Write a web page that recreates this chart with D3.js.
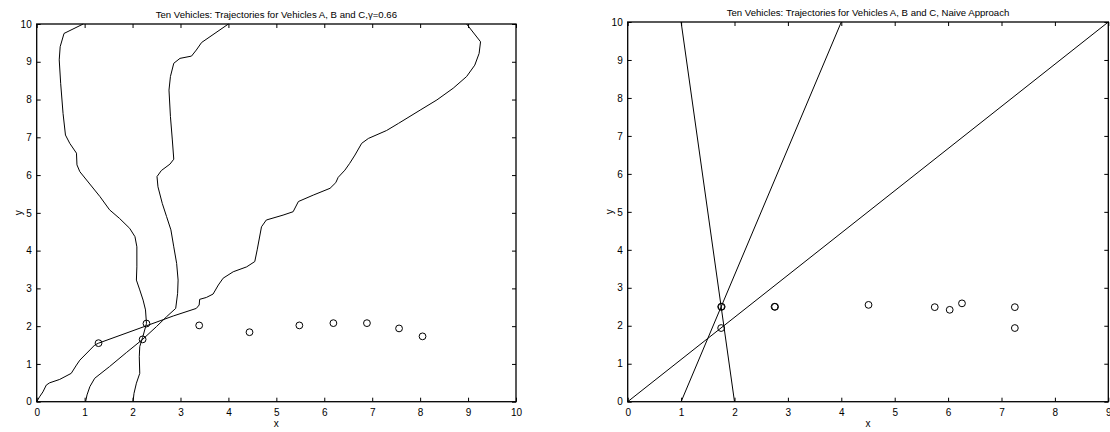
<!DOCTYPE html>
<html>
<head>
<meta charset="utf-8">
<script src="https://cdn.jsdelivr.net/npm/d3@7"></script>
<style>
body{margin:0;background:#fff;}
svg{display:block;font-family:"Liberation Sans",Arial,Helvetica,sans-serif;}
</style>
</head>
<body>
<svg id="c" width="1110" height="432"></svg>
<script>
// ---------- Data: left panel (gamma = 0.66) ----------
const leftTitle = "Ten Vehicles: Trajectories for Vehicles A, B and C,\u03B3=0.66";
const leftXTicks = [0,1,2,3,4,5,6,7,8,9,10];
const leftYTicks = [0,1,2,3,4,5,6,7,8,9,10];
const trajA = [[0,0],[0.06,0.13],[0.13,0.26],[0.20,0.44],[0.27,0.50],[0.48,0.59],[0.72,0.75],[0.83,0.97],[0.90,1.10],[1.11,1.37],[1.21,1.50],[1.29,1.55],[2.29,2.01],[2.85,2.27],[3.33,2.47],[3.39,2.56],[3.40,2.71],[3.54,2.76],[3.68,2.85],[3.79,3.09],[3.89,3.27],[4.10,3.44],[4.38,3.57],[4.55,3.71],[4.60,4.02],[4.69,4.63],[4.79,4.81],[5.14,4.94],[5.35,5.03],[5.46,5.30],[5.77,5.47],[6.12,5.65],[6.24,5.80],[6.29,5.94],[6.43,6.13],[6.53,6.31],[6.64,6.53],[6.78,6.84],[6.92,6.97],[7.30,7.18],[7.55,7.37],[8.00,7.72],[8.35,7.99],[8.69,8.30],[8.97,8.61],[9.14,8.91],[9.23,9.22],[9.26,9.53],[8.97,10]];
const trajB = [[1.02,0],[1.05,0.18],[1.11,0.40],[1.21,0.62],[1.32,0.73],[1.52,0.93],[1.87,1.30],[2.21,1.65],[2.50,1.99],[2.71,2.25],[2.90,2.47],[2.94,2.87],[2.95,3.22],[2.92,3.66],[2.86,4.10],[2.80,4.55],[2.71,4.90],[2.62,5.25],[2.53,5.69],[2.51,5.96],[2.60,6.12],[2.78,6.29],[2.86,6.42],[2.83,6.93],[2.79,7.55],[2.76,8.25],[2.79,8.61],[2.86,8.96],[2.99,9.09],[3.23,9.15],[3.33,9.31],[3.44,9.51],[4.00,10]];
const trajC = [[2.01,0],[2.03,0.22],[2.08,0.49],[2.15,0.75],[2.14,1.19],[2.15,1.46],[2.21,1.70],[2.29,2.07],[2.27,2.43],[2.22,2.69],[2.15,2.96],[2.08,3.22],[2.09,3.57],[2.09,4.10],[2.05,4.37],[1.94,4.59],[1.73,4.85],[1.52,5.08],[1.32,5.43],[0.90,6.09],[0.84,6.27],[0.83,6.58],[0.69,6.84],[0.60,7.06],[0.55,7.63],[0.50,8.43],[0.47,9.05],[0.49,9.40],[0.57,9.75],[0.97,10]];
const leftPtsX = [1.29,2.29,2.21,3.39,4.44,5.48,6.19,6.89,7.56,8.05];
const leftPtsY = [1.55,2.07,1.65,2.02,1.84,2.02,2.08,2.08,1.94,1.73];

// ---------- Data: right panel (naive approach) ----------
const rightTitle = "Ten Vehicles: Trajectories for Vehicles A, B and C, Naive Approach";
const rightXTicks = [0,1,2,3,4,5,6,7,8,9];
const rightYTicks = [0,1,2,3,4,5,6,7,8,9,10];
const naiveA = [[0,0],[9,10]];
const naiveB = [[1,0],[4,10]];
const naiveC = [[2,0],[1,10]];
const rightPtsX = [1.75,1.76,1.75,2.75,2.76,4.51,5.75,6.03,6.26,7.25,7.25];
const rightPtsY = [2.50,2.50,1.94,2.50,2.50,2.55,2.49,2.42,2.59,2.49,1.94];

const svg = d3.select("#c");

function panel(cfg){
  const g = svg.append("g");
  const x = d3.scaleLinear().domain(cfg.xDomain).range([cfg.left, cfg.right]);
  const y = d3.scaleLinear().domain([0,10]).range([cfg.bottom, cfg.top]);
  const tl = 4;

  // data lines
  const line = d3.line().x(d=>x(d[0])).y(d=>y(d[1]));
  cfg.lines.forEach(L=>{
    g.append("path").attr("d", line(L)).attr("fill","none")
      .attr("stroke","#000").attr("stroke-width",1);
  });
  // points
  g.selectAll("circle.p").data(cfg.px.map((v,i)=>[v,cfg.py[i]])).enter()
    .append("circle").attr("class","p")
    .attr("cx",d=>x(d[0])).attr("cy",d=>y(d[1])).attr("r",3.4)
    .attr("fill","none").attr("stroke","#000").attr("stroke-width",1);

  // axes (inward ticks on all sides)
  const axB = d3.axisBottom(x).tickValues(cfg.xTicks).tickSizeInner(-tl).tickSizeOuter(0).tickPadding(7).tickFormat(d3.format("d"));
  const axT = d3.axisTop(x).tickValues(cfg.xTicks).tickSizeInner(-tl).tickSizeOuter(0).tickFormat("");
  const axL = d3.axisLeft(y).tickValues(cfg.yTicks).tickSizeInner(-tl).tickSizeOuter(0).tickPadding(5).tickFormat(d3.format("d"));
  const axR = d3.axisRight(y).tickValues(cfg.yTicks).tickSizeInner(-tl).tickSizeOuter(0).tickFormat("");
  const gb = g.append("g").attr("transform",`translate(0,${cfg.bottom})`).call(axB);
  const gt = g.append("g").attr("transform",`translate(0,${cfg.top})`).call(axT);
  const gl = g.append("g").attr("transform",`translate(${cfg.left},0)`).call(axL);
  const gr = g.append("g").attr("transform",`translate(${cfg.right},0)`).call(axR);
  [gb,gt,gl,gr].forEach(a=>{
    a.select(".domain").remove();
    a.selectAll("line").attr("stroke","#000");
    a.selectAll("text").attr("fill","#000").style("font-size","10px")
      .style("font-family","'Liberation Sans',Arial,sans-serif");
  });
  gb.selectAll("text").attr("dy","0.71em");
  // frame
  g.append("rect").attr("x",cfg.left).attr("y",cfg.top)
    .attr("width",cfg.right-cfg.left).attr("height",cfg.bottom-cfg.top)
    .attr("fill","none").attr("stroke","#000").attr("stroke-width",1.3);

  // title & labels
  g.append("text").attr("x",(cfg.left+cfg.right)/2).attr("y",cfg.top-6)
    .attr("text-anchor","middle").style("font-size","9.6px").text(cfg.title);
  g.append("text").attr("x",(cfg.left+cfg.right)/2).attr("y",cfg.bottom+25)
    .attr("text-anchor","middle").style("font-size","10px").text("x");
  g.append("text").attr("transform",`translate(${cfg.left-15},${(cfg.top+cfg.bottom)/2}) rotate(-90)`)
    .attr("text-anchor","middle").style("font-size","10px").text("y");
}

panel({left:36.7,right:516,top:24,bottom:401.7,xDomain:[0,10],
  xTicks:leftXTicks,yTicks:leftYTicks,lines:[trajA,trajB,trajC],
  px:leftPtsX,py:leftPtsY,title:leftTitle});
panel({left:627.7,right:1108.3,top:22,bottom:401.7,xDomain:[0,9],
  xTicks:rightXTicks,yTicks:rightYTicks,lines:[naiveA,naiveB,naiveC],
  px:rightPtsX,py:rightPtsY,title:rightTitle});
</script>
</body>
</html>
